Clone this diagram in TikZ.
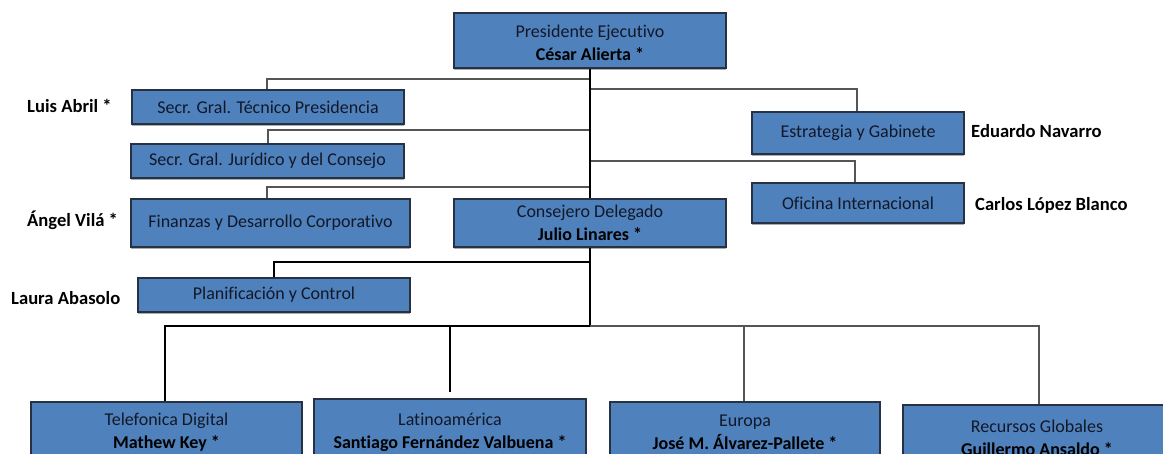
\documentclass[tikz,border=0pt]{standalone}
\usepackage{fontspec}
\setmainfont[Ligatures={NoCommon}]{Carlito}
\usetikzlibrary{shadows}
\definecolor{boxblue}{RGB}{79,129,189}
\definecolor{boxline}{RGB}{38,50,68}
\definecolor{txt}{RGB}{18,24,40}
\definecolor{lgray}{RGB}{85,85,85}
\tikzset{
  orgbox/.style={rectangle, draw=boxline, fill=boxblue, line width=1.3pt, inner sep=0pt,
    align=center, text=txt, font=\fontsize{18}{23}\selectfont,
    drop shadow={shadow xshift=0pt, shadow yshift=-1.6pt, fill=black!55, opacity=0.6}},
  namelbl/.style={anchor=west, inner sep=0pt, text=black, font=\fontsize{18.6}{22}\selectfont\bfseries},
  branch/.style={draw=lgray, line width=2pt},
  trunk/.style={draw=black, line width=2.6pt},
}
\begin{document}
\begin{tikzpicture}[x=1pt,y=-1pt]
\useasboundingbox (0,0) rectangle (1163,454);
\clip (0,0) rectangle (1163,454);

% junction coordinates on the trunk
\coordinate (j1) at (590,79);
\coordinate (j2) at (590,89);
\coordinate (j3) at (590,130);
\coordinate (j4) at (590,161);
\coordinate (j5) at (590,187);
\coordinate (j6) at (590,262);
\coordinate (bus) at (590,326);

% boxes
\node[orgbox, minimum width=272pt, minimum height=55pt] (pres) at (590,40.5)
  {\raisebox{-4pt}[\height][\depth]{\begin{tabular}{@{}c@{}}Presidente Ejecutivo\\\textbf{\color{black}César Alierta *}\end{tabular}}};
\node[orgbox, minimum width=272pt, minimum height=34pt] (sectec) at (268,107)
  {Secr. Gral. Técnico Presidencia};
\node[orgbox, minimum width=273pt, minimum height=34pt] (secjur) at (267.5,161)
  {Secr. Gral. Jurídico y del Consejo};
\node[orgbox, minimum width=279pt, minimum height=48pt] (fin) at (270.5,223)
  {Finanzas y Desarrollo Corporativo};
\node[orgbox, minimum width=272pt, minimum height=48pt] (cons) at (590,223)
  {Consejero Delegado\\\textbf{\color{black}Julio Linares *}};
\node[orgbox, minimum width=272pt, minimum height=34pt] (plan) at (274,295)
  {Planificación y Control};
\node[orgbox, minimum width=212pt, minimum height=42pt] (estr) at (858,133)
  {Estrategia y Gabinete};
\node[orgbox, minimum width=212pt, minimum height=40pt] (ofi) at (858,203)
  {Oficina Internacional};
\node[orgbox, minimum width=271pt, minimum height=61pt] (tel) at (166.5,432.5)
  {Telefonica Digital\\\textbf{\color{black}Mathew Key *}};
\node[orgbox, minimum width=272pt, minimum height=66pt] (lat) at (450,432)
  {Latinoamérica\\\textbf{\color{black}Santiago Fernández Valbuena *}};
\node[orgbox, minimum width=270pt, minimum height=61pt] (eur) at (745,432.5)
  {Europa\\\textbf{\color{black}José M. Álvarez-Pallete *}};
\node[orgbox, minimum width=268pt, minimum height=65pt] (rec) at (1037,437.5)
  {Recursos Globales\\\textbf{\color{black}Guillermo Ansaldo *}};

% outside labels
\node[namelbl] (lAbril) at (27,106) {Luis Abril *};
\node[namelbl] (lVila) at (27,220) {Ángel Vilá *};
\node[namelbl] (lAbasolo) at (11,298) {Laura Abasolo};
\node[namelbl] (lNavarro) at (971,131) {Eduardo Navarro};
\node[namelbl] (lLopez) at (975,205) {Carlos López Blanco};

% connectors
\draw[branch] (j1) -| ([xshift=-1pt]sectec.north);
\draw[branch] (j2) -| ([xshift=-1pt]estr.north);
\draw[branch] (j3) -| (secjur.north);
\draw[branch] (j4) -| ([xshift=-3pt]ofi.north);
\draw[branch] (j5) -| ([xshift=-3.5pt]fin.north);
\draw[trunk] (j6) -| (plan.north);
\draw[trunk] (pres.south) -- (cons.north);
\draw[trunk] (cons.south) -- (bus);
\draw[trunk] (bus) -| ([xshift=-1.5pt]tel.north);
\draw[trunk] (bus) -| ([yshift=6pt]lat.north);
\draw[branch] (bus) -| ([xshift=-1pt]eur.north);
\draw[branch] (bus) -| ([xshift=2pt]rec.north);
\end{tikzpicture}
\end{document}
